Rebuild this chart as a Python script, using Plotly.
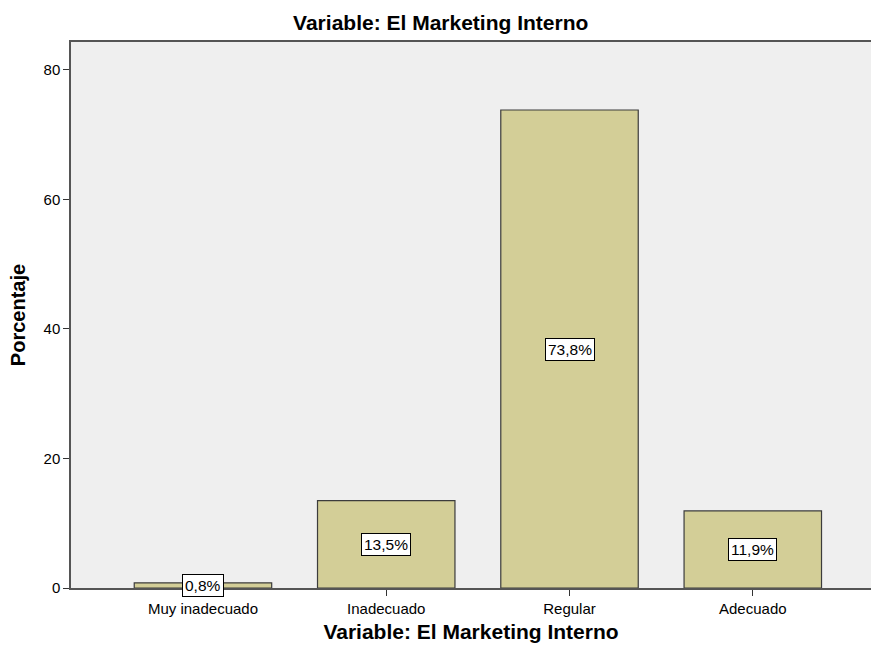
import plotly.graph_objects as go

categories = ["Muy inadecuado", "Inadecuado", "Regular", "Adecuado"]
values = [0.8, 13.5, 73.8, 11.9]
labels = ["0,8%", "13,5%", "73,8%", "11,9%"]
y_ticks = [0, 20, 40, 60, 80]

FONT = "Liberation Sans, Arial, sans-serif"

fig = go.Figure()
fig.add_trace(go.Bar(
    x=list(range(len(categories))), y=values,
    width=0.75,
    marker=dict(color="#d3ce97", line=dict(color="#3c3c3c", width=1.2)),
    hoverinfo="skip",
))

for i, (v, lab) in enumerate(zip(values, labels)):
    fig.add_annotation(
        x=i, y=v / 2, text=lab, showarrow=False,
        font=dict(family=FONT, size=15.5, color="black"),
        bgcolor="white", bordercolor="black", borderwidth=1, borderpad=2,
    )

fig.update_layout(
    width=871, height=648,
    margin=dict(l=71, r=0, t=42, b=60),
    paper_bgcolor="white", plot_bgcolor="#efefef",
    showlegend=False,
    font=dict(family=FONT, color="black"),
    title=dict(text="<b>Variable: El Marketing Interno</b>", x=0.506, xanchor="center",
               y=0.965, yanchor="middle", font=dict(family=FONT, size=21, color="black")),
    xaxis=dict(
        tickmode="array", tickvals=list(range(len(categories))), ticktext=categories,
        range=[-0.72, 3.645], showgrid=False, zeroline=False,
        showline=True, linecolor="#555555", linewidth=1.5, mirror=True,
        ticks="outside", ticklen=6, tickcolor="#333333",
        tickfont=dict(family=FONT, size=15, color="black"),
        title=dict(text="<b>Variable: El Marketing Interno</b>", standoff=9,
                   font=dict(family=FONT, size=21, color="black")),
    ),
    yaxis=dict(
        tickmode="array", tickvals=y_ticks,
        range=[0, 84.3], showgrid=False, zeroline=False,
        showline=True, linecolor="#555555", linewidth=1.5,
        ticks="outside", ticklen=6, tickcolor="#333333",
        tickfont=dict(family=FONT, size=15, color="black"),
        title=dict(text="<b>Porcentaje</b>", standoff=13,
                   font=dict(family=FONT, size=20, color="black")),
    ),
)

fig.write_html(
    "out.html",
    config={"displayModeBar": False},
    post_script="document.body.style.margin='0';document.body.style.overflow='hidden';",
)
